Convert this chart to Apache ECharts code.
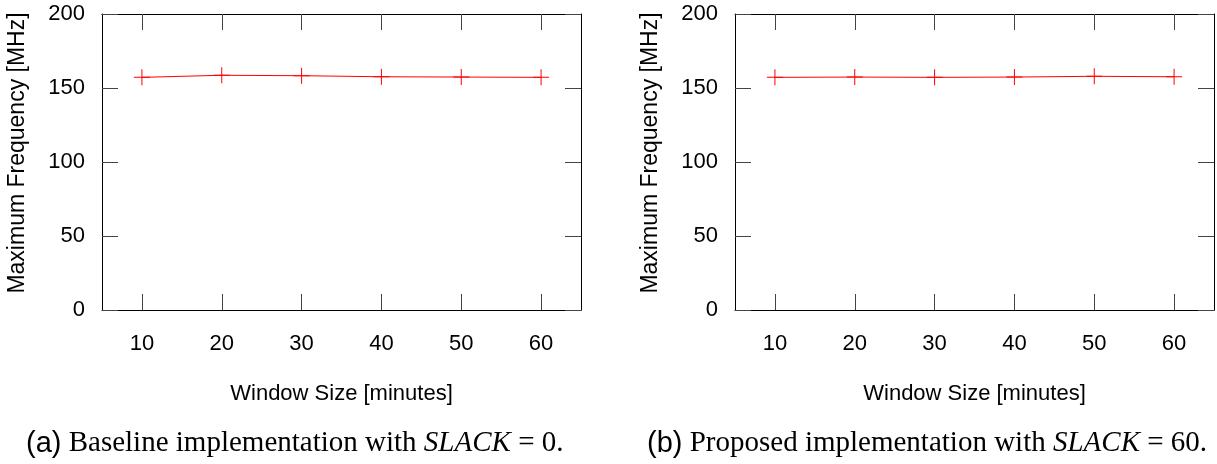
<!DOCTYPE html>
<html>
<head>
<meta charset="utf-8">
<script src="https://cdn.jsdelivr.net/npm/echarts@6/dist/echarts.min.js"></script>
<style>
  html, body { margin: 0; padding: 0; background: #fff; }
  #main { width: 1217px; height: 464px; }
</style>
</head>
<body>
<div id="main"></div>
<script>
'use strict';

// data
var windowSizes = [10, 20, 30, 40, 50, 60];
var baselineFreq = [157.2, 158.6, 158.3, 157.6, 157.4, 157.2];
var proposedFreq = [157.2, 157.4, 157.2, 157.4, 157.9, 157.6];
var xTicks = [10, 20, 30, 40, 50, 60];
var yTicks = [0, 50, 100, 150, 200];

var SANS = 'Liberation Sans';
var SERIF = 'Liberation Serif';
var plusSymbol = 'path://M7.5,0H8.5V16H7.5Z M0,7.5H16V8.5H0Z';

var myChart = echarts.init(document.getElementById('main'));

function pairs(xs, ys) {
    return xs.map(function (x, i) { return [x, ys[i]]; });
}

function xAxisFor(gridIndex, pos, showLabel) {
    return {
        type: 'value', gridIndex: gridIndex, position: pos,
        min: 5, max: 65,
        name: showLabel ? 'Window Size [minutes]' : '',
        nameLocation: 'middle', nameGap: 73,
        nameTextStyle: { fontFamily: SANS, fontSize: 22, color: '#000' },
        axisLine: { show: true, onZero: false, lineStyle: { color: '#000', width: 1 } },
        axisTick: { show: true, inside: true, length: 16, customValues: xTicks,
                    lineStyle: { color: '#444', width: 1 } },
        axisLabel: { show: showLabel, customValues: xTicks, margin: 23,
                     fontFamily: SANS, fontSize: 22, color: '#000' },
        splitLine: { show: false }
    };
}

function yAxisFor(gridIndex, pos, showLabel) {
    return {
        type: 'value', gridIndex: gridIndex, position: pos,
        min: 0, max: 200, interval: 50,
        name: showLabel ? 'Maximum Frequency [MHz]' : '',
        nameLocation: 'middle', nameGap: 73,
        // gnuplot puts this label a little above the middle
        nameTextStyle: { fontFamily: SANS, fontSize: 23, color: '#000', padding: [0, 0, 0, 18] },
        axisLine: { show: true, onZero: false, lineStyle: { color: '#000', width: 1 } },
        axisTick: { show: true, inside: true, length: 16,
                    lineStyle: { color: '#444', width: 1 } },
        axisLabel: { show: showLabel, margin: 17,
                     fontFamily: SANS, fontSize: 22, color: '#000' },
        splitLine: { show: false }
    };
}

function lineSeries(idx, ys) {
    return {
        type: 'line', xAxisIndex: idx * 2, yAxisIndex: idx * 2,
        data: pairs(windowSizes, ys),
        symbol: plusSymbol, symbolSize: 16,
        itemStyle: { color: '#ff0000' },
        lineStyle: { color: '#ff0000', width: 1 },
        animation: false
    };
}

var captionRich = {
    s: { fontFamily: SANS, fontSize: 29, fontWeight: 'normal', color: '#000' },
    r: { fontFamily: SERIF, fontSize: 29, fontWeight: 'normal', color: '#000' },
    i: { fontFamily: SERIF, fontSize: 29, fontWeight: 'normal', fontStyle: 'italic', color: '#000' }
};

var option = {
    animation: false,
    backgroundColor: '#fff',
    title: [
        { text: '{s|(a)}{r| Baseline implementation with }{i|SLACK}{r| = 0.}',
          left: 26, top: 429, padding: 0,
          textStyle: { fontWeight: 'normal', rich: captionRich } },
        { text: '{s|(b)}{r| Proposed implementation with }{i|SLACK}{r| = 60.}',
          left: 647, top: 429, padding: 0,
          textStyle: { fontWeight: 'normal', rich: captionRich } }
    ],
    grid: [
        { left: 102, top: 14, width: 479, height: 296 },
        { left: 735, top: 14, width: 479, height: 296 }
    ],
    xAxis: [
        xAxisFor(0, 'bottom', true), xAxisFor(0, 'top', false),
        xAxisFor(1, 'bottom', true), xAxisFor(1, 'top', false)
    ],
    yAxis: [
        yAxisFor(0, 'left', true), yAxisFor(0, 'right', false),
        yAxisFor(1, 'left', true), yAxisFor(1, 'right', false)
    ],
    series: [
        lineSeries(0, baselineFreq),
        lineSeries(1, proposedFreq)
    ]
};

myChart.setOption(option);
</script>
</body>
</html>
